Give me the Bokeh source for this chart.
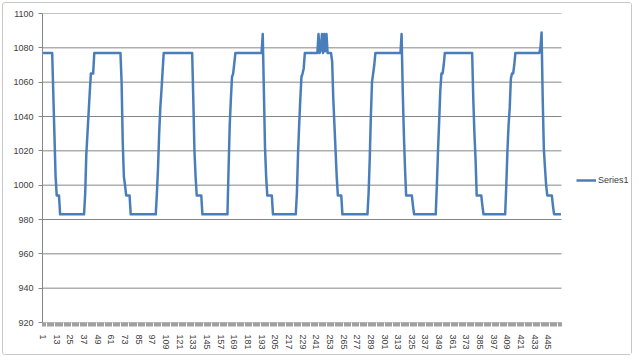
from bokeh.plotting import figure
from bokeh.models import FixedTicker, Legend, LegendItem, Range1d
from bokeh.embed import file_html
from bokeh.resources import INLINE

series_name = "Series1"

series1 = [
    1077, 1077, 1077, 1077, 1077, 1077, 1077, 1077, 1077,
    1053, 1029, 1005, 994, 994, 994,
    983, 983, 983, 983, 983, 983, 983, 983, 983, 983, 983,
    983, 983, 983, 983, 983, 983, 983, 983, 983, 983, 983,
    995, 1018, 1030, 1042, 1054, 1065, 1065, 1065,
    1077, 1077, 1077, 1077, 1077, 1077, 1077, 1077, 1077, 1077, 1077, 1077,
    1077, 1077, 1077, 1077, 1077, 1077, 1077, 1077, 1077, 1077, 1077, 1077,
    1060, 1025, 1005, 1000, 994, 994, 994, 994,
    983, 983, 983, 983, 983, 983, 983, 983, 983, 983, 983, 983,
    983, 983, 983, 983, 983, 983, 983, 983, 983, 983, 983,
    995, 1010, 1030, 1045, 1055, 1066,
    1077, 1077, 1077, 1077, 1077, 1077, 1077, 1077, 1077, 1077, 1077, 1077, 1077,
    1077, 1077, 1077, 1077, 1077, 1077, 1077, 1077, 1077, 1077, 1077, 1077, 1077,
    1050, 1020, 1005, 994, 994, 994, 994, 994,
    983, 983, 983, 983, 983, 983, 983, 983, 983, 983, 983, 983,
    983, 983, 983, 983, 983, 983, 983, 983, 983, 983, 983,
    1010, 1035, 1050, 1063, 1065, 1071,
    1077, 1077, 1077, 1077, 1077, 1077, 1077, 1077, 1077, 1077, 1077, 1077,
    1077, 1077, 1077, 1077, 1077, 1077, 1077, 1077, 1077, 1077, 1077, 1077,
    1088, 1055, 1022, 1005, 994, 994, 994, 994, 994,
    983, 983, 983, 983, 983, 983, 983, 983, 983, 983, 983,
    983, 983, 983, 983, 983, 983, 983, 983, 983, 983,
    995, 1018, 1035, 1050, 1063, 1065, 1068,
    1077, 1077, 1077, 1077, 1077, 1077, 1077, 1077, 1077, 1077, 1077, 1077,
    1088, 1077, 1079, 1088, 1077, 1088, 1078, 1088,
    1077, 1077, 1077, 1077,
    1072, 1050, 1035, 1020, 1005, 994, 994, 994, 994,
    983, 983, 983, 983, 983, 983, 983, 983, 983, 983, 983, 983,
    983, 983, 983, 983, 983, 983, 983, 983, 983, 983, 983,
    995, 1015, 1040, 1060, 1065, 1070,
    1077, 1077, 1077, 1077, 1077, 1077, 1077, 1077, 1077, 1077, 1077, 1077,
    1077, 1077, 1077, 1077, 1077, 1077, 1077, 1077, 1077, 1077, 1077,
    1088, 1055, 1030, 1010, 994, 994, 994, 994, 994, 994, 988,
    983, 983, 983, 983, 983, 983, 983, 983, 983, 983,
    983, 983, 983, 983, 983, 983, 983, 983, 983, 983,
    1000, 1020, 1037, 1055, 1065, 1065, 1070,
    1077, 1077, 1077, 1077, 1077, 1077, 1077, 1077, 1077, 1077, 1077, 1077, 1077,
    1077, 1077, 1077, 1077, 1077, 1077, 1077, 1077, 1077, 1077, 1077, 1077,
    1050, 1030, 1015, 994, 994, 994, 994, 994, 988,
    983, 983, 983, 983, 983, 983, 983, 983, 983, 983,
    983, 983, 983, 983, 983, 983, 983, 983, 983, 983,
    1000, 1020, 1035, 1045, 1062, 1065, 1065, 1070,
    1077, 1077, 1077, 1077, 1077, 1077, 1077, 1077, 1077, 1077, 1077,
    1077, 1077, 1077, 1077, 1077, 1077, 1077, 1077, 1077, 1077, 1077, 1080,
    1089, 1050, 1021, 1010, 1000, 994, 994, 994, 994, 994, 988,
    983, 983, 983, 983, 983, 983, 983,
]

categories = list(range(1, len(series1) + 1))

x_tick_labels = ["1", "13", "25", "37", "49", "61", "73", "85", "97", "109",
                 "121", "133", "145", "157", "169", "181", "193", "205", "217",
                 "229", "241", "253", "265", "277", "289", "301", "313", "325",
                 "337", "349", "361", "373", "385", "397", "409", "421", "433",
                 "445"]
y_ticks = [920, 940, 960, 980, 1000, 1020, 1040, 1060, 1080, 1100]

FONT = "Liberation Sans"
TXT = "#404040"
GRID = "#868686"

W, H = 630, 353
BL, BR = 39, 2
PLOT_AREA_PX = 519                      # width of the category area in px
n = len(series1)
px_per_cat = PLOT_AREA_PX / n
x_end = 0.5 + (W - BL - BR) / px_per_cat  # frame extends right to hold the legend

p = figure(width=W, height=H, output_backend="svg", toolbar_location=None,
           x_range=Range1d(0.5, x_end), y_range=Range1d(920, 1100),
           min_border_left=BL, min_border_right=BR, min_border_top=10,
           min_border_bottom=34)
p.styles = {"margin": "2px", "border": "1px solid #c8c8c8", "border-radius": "3px"}
p.outline_line_color = None
p.background_fill_color = "white"
p.border_fill_color = "white"

# horizontal gridlines limited to the category area
p.segment(x0=[0.5] * len(y_ticks), x1=[n + 0.5] * len(y_ticks), y0=y_ticks,
          y1=y_ticks, line_color=GRID, line_width=1)

r = p.line(categories, series1, line_color="#4a7ebb", line_width=2.5,
           line_join="round")

# x axis
xt = [int(s) for s in x_tick_labels]
p.xaxis.ticker = FixedTicker(ticks=xt,
                             minor_ticks=[c - 0.5 for c in categories] + [n + 0.5])
p.xaxis.major_label_overrides = {int(s): s for s in x_tick_labels}
p.xaxis.major_label_orientation = "vertical"
p.xaxis.major_tick_out = 0
p.xaxis.major_tick_in = 0
p.xaxis.minor_tick_out = 4
p.xaxis.minor_tick_in = 0
p.xaxis.minor_tick_line_color = "#a0a0a0"
p.xaxis.axis_line_color = None
p.xaxis.major_label_standoff = 8
p.xaxis.major_label_text_font = FONT
p.xaxis.major_label_text_font_size = "9px"
p.xaxis.major_label_text_color = TXT
p.xgrid.visible = False
p.ygrid.visible = False

# y axis
p.yaxis.ticker = FixedTicker(ticks=y_ticks)
p.yaxis.major_tick_out = 4
p.yaxis.major_tick_in = 0
p.yaxis.minor_tick_line_color = None
p.yaxis.major_tick_line_color = GRID
p.yaxis.axis_line_color = GRID
p.yaxis.major_label_standoff = 5
p.yaxis.major_label_text_font = FONT
p.yaxis.major_label_text_font_size = "9px"
p.yaxis.major_label_text_color = TXT

legend = Legend(items=[LegendItem(label=series_name, renderers=[r])],
                location=(534, 137), glyph_width=20, glyph_height=10,
                label_standoff=2, padding=0, margin=0, spacing=0,
                border_line_color=None, background_fill_alpha=0,
                label_text_font=FONT, label_text_font_size="9px",
                label_text_color=TXT, label_height=10)
p.add_layout(legend, "center")

open("out.html", "w").write(file_html(p, INLINE))
